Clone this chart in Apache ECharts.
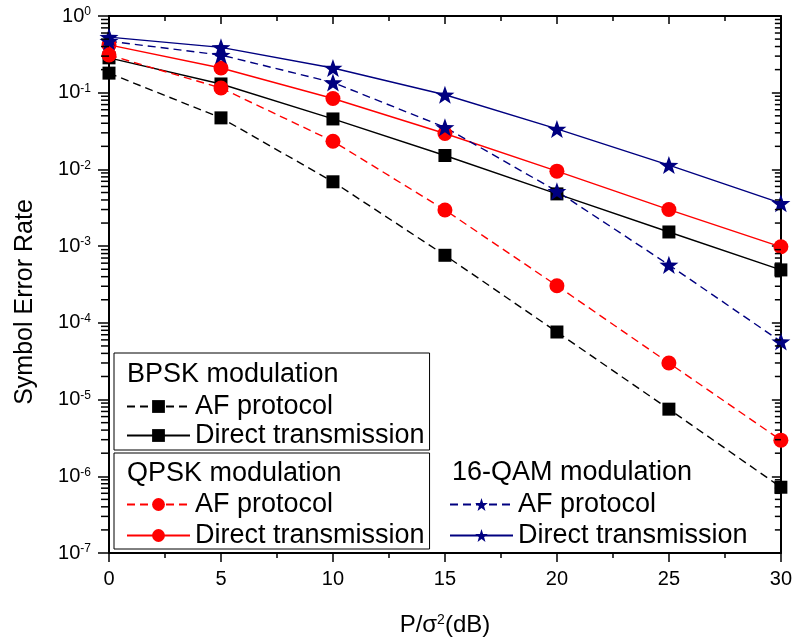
<!DOCTYPE html>
<html>
<head>
<meta charset="utf-8">
<script src="https://cdn.jsdelivr.net/npm/echarts@6/dist/echarts.min.js"></script>
<style>
  html, body { margin: 0; padding: 0; background: #fff; }
  #chart { width: 795px; height: 642px; }
</style>
</head>
<body>
<div id="chart"></div>
<script>
// ---- data ----
const snr = [0, 5, 10, 15, 20, 25, 30];
const bpskAF = [0.18, 0.047, 0.0069, 0.00076, 7.6e-5, 7.5e-6, 7.2e-7];
const bpskDT = [0.285, 0.13, 0.0455, 0.0152, 0.0048, 0.00153, 0.00049];
const qpskAF = [0.31, 0.115, 0.0233, 0.00296, 0.000305, 3.0e-5, 2.96e-6];
const qpskDT = [0.42, 0.21, 0.084, 0.0294, 0.0095, 0.0030, 0.00098];
const qamAF = [0.47, 0.31, 0.136, 0.0354, 0.0052, 0.00057, 5.7e-5];
const qamDT = [0.53, 0.39, 0.21, 0.094, 0.0337, 0.0114, 0.00363];
const xTicks = [0, 5, 10, 15, 20, 25, 30];
const yDecades = [-7, -6, -5, -4, -3, -2, -1, 0];

const FONT = '"Liberation Sans", Arial, sans-serif';
const BLACK = '#000000', RED = '#ff0000', NAVY = '#000080';
const STAR = 'path://M0,-10 L2.35,-3.24 L9.51,-3.09 L3.8,1.24 L5.88,8.09 L0,4 L-5.88,8.09 L-3.8,1.24 L-9.51,-3.09 L-2.35,-3.24 Z';

function pairs(ys) { return snr.map((x, i) => [x, ys[i]]); }

// minor tick values for the log axis: 2..9 x 10^k
const minorVals = [];
for (let k = yDecades[0]; k < yDecades[yDecades.length - 1]; k++) {
  for (let m = 2; m <= 9; m++) minorVals.push([0, m * Math.pow(10, k)]);
}

function lineSeries(name, data, color, dashed, symbol, size) {
  return {
    name: name, type: 'line', data: pairs(data),
    xAxisIndex: 0, yAxisIndex: 0,
    symbol: symbol, symbolSize: size, symbolKeepAspect: true,
    showAllSymbol: true,
    lineStyle: { color: color, width: 1.4, type: dashed ? [8, 5] : 'solid' },
    itemStyle: { color: color, borderWidth: 0 },
    emphasis: { disabled: true },
    animation: false, z: 3
  };
}

const chart = echarts.init(document.getElementById('chart'), null, { renderer: 'canvas' });

const legendText = { fontSize: 27, fontFamily: FONT, color: '#000' };
const legendFmt = n => n.indexOf('AF') >= 0 ? 'AF protocol' : 'Direct transmission';

const option = {
  backgroundColor: '#fff',
  animation: false,
  grid: { left: 109, top: 16, right: 12, bottom: 87, containLabel: false },
  xAxis: [
    {
      type: 'value', min: 0, max: 30, interval: 5, position: 'bottom',
      axisLine: { show: true, onZero: false, lineStyle: { color: '#000', width: 2 } },
      axisTick: { show: true, inside: false, length: 9, lineStyle: { color: '#000', width: 1.5 } },
      minorTick: { show: true, splitNumber: 2, length: 5, lineStyle: { color: '#000', width: 1.5 } },
      splitLine: { show: false },
      axisLabel: { fontSize: 20, fontFamily: FONT, color: '#000', margin: 16,
        formatter: v => xTicks.indexOf(v) >= 0 ? String(v) : '' },
      name: '{a|P/σ}{s|2}{a|(dB)}', nameLocation: 'middle', nameGap: 60,
      nameTextStyle: { fontFamily: FONT, color: '#000',
        rich: { a: { fontSize: 24, fontFamily: FONT, color: '#000', verticalAlign: 'bottom' },
                s: { fontSize: 14, fontFamily: FONT, color: '#000', verticalAlign: 'top' } } }
    },
    {
      type: 'value', min: 0, max: 30, interval: 5, position: 'top',
      axisLine: { show: true, onZero: false, lineStyle: { color: '#000', width: 2 } },
      axisTick: { show: true, inside: true, length: 8, lineStyle: { color: '#000', width: 1.5 } },
      minorTick: { show: true, splitNumber: 2, length: 5, lineStyle: { color: '#000', width: 1.5 } },
      splitLine: { show: false },
      axisLabel: { show: false }
    }
  ],
  yAxis: [
    {
      type: 'log', logBase: 10, min: 1e-7, max: 1, splitNumber: 7, position: 'left',
      axisLine: { show: true, onZero: false, lineStyle: { color: '#000', width: 2 } },
      axisTick: { show: true, inside: false, length: 11, lineStyle: { color: '#000', width: 1.5 } },
      minorTick: { show: false },
      splitLine: { show: false },
      axisLabel: {
        margin: 18, color: '#000', fontFamily: FONT,
        formatter: v => '{b|10}{e|' + Math.round(Math.log10(v)) + '}',
        rich: {
          b: { fontSize: 20, fontFamily: FONT, color: '#000', verticalAlign: 'bottom' },
          e: { fontSize: 12, fontFamily: FONT, color: '#000', verticalAlign: 'top' }
        }
      }
    },
    {
      type: 'log', logBase: 10, min: 1e-7, max: 1, splitNumber: 7, position: 'right',
      axisLine: { show: true, onZero: false, lineStyle: { color: '#000', width: 2 } },
      axisTick: { show: true, inside: true, length: 9, lineStyle: { color: '#000', width: 1.5 } },
      minorTick: { show: false },
      splitLine: { show: false },
      axisLabel: { show: false }
    }
  ],
  legend: [
    {
      data: ['BPSK AF', 'BPSK Direct'], orient: 'vertical', left: 114, top: 353,
      padding: [40, 5, 1, 12], itemGap: 2, itemWidth: 63, itemHeight: 16,
      borderColor: '#000', borderWidth: 1, backgroundColor: '#fff',
      selectedMode: false, formatter: legendFmt, textStyle: legendText
    },
    {
      data: ['QPSK AF', 'QPSK Direct'], orient: 'vertical', left: 114, top: 453,
      padding: [38, 5, 0, 12], itemGap: 4, itemWidth: 63, itemHeight: 16,
      borderColor: '#000', borderWidth: 1, backgroundColor: '#fff',
      selectedMode: false, formatter: legendFmt, textStyle: legendText
    },
    {
      data: ['16QAM AF', '16QAM Direct'], orient: 'vertical', left: 449, top: 491,
      padding: 0, itemGap: 4, itemWidth: 63, itemHeight: 16,
      selectedMode: false, formatter: legendFmt, textStyle: legendText
    }
  ],
  graphic: [
    { type: 'text', left: 127, top: 361, z: 100,
      style: { text: 'BPSK modulation', font: '27px ' + FONT, fill: '#000' } },
    { type: 'text', left: 127, top: 460, z: 100,
      style: { text: 'QPSK modulation', font: '27px ' + FONT, fill: '#000' } },
    { type: 'text', left: 452, top: 459, z: 100,
      style: { text: '16-QAM modulation', font: '27px ' + FONT, fill: '#000' } },
    { type: 'text', x: 25, y: 302, rotation: Math.PI / 2, z: 100,
      style: { text: 'Symbol Error Rate', font: '25px ' + FONT, fill: '#000',
               align: 'center', verticalAlign: 'middle' } }
  ],
  series: [
    lineSeries('BPSK AF', bpskAF, BLACK, true, 'rect', 13),
    lineSeries('BPSK Direct', bpskDT, BLACK, false, 'rect', 13),
    lineSeries('QPSK AF', qpskAF, RED, true, 'circle', 15),
    lineSeries('QPSK Direct', qpskDT, RED, false, 'circle', 15),
    lineSeries('16QAM AF', qamAF, NAVY, true, STAR, 19),
    lineSeries('16QAM Direct', qamDT, NAVY, false, STAR, 19),
    {
      type: 'custom', name: 'minor ticks', xAxisIndex: 0, yAxisIndex: 0,
      data: minorVals, silent: true, z: 5, animation: false,
      renderItem: function (params, api) {
        const v = api.value(1);
        const l = api.coord([0, v]);
        const r = api.coord([30, v]);
        return { type: 'group', children: [
          { type: 'line', shape: { x1: l[0] - 8, y1: l[1], x2: l[0], y2: l[1] },
            style: { stroke: '#000', lineWidth: 1.5 } },
          { type: 'line', shape: { x1: r[0] - 6, y1: r[1], x2: r[0], y2: r[1] },
            style: { stroke: '#000', lineWidth: 1.5 } }
        ] };
      }
    }
  ]
};
chart.setOption(option);
</script>
</body>
</html>
